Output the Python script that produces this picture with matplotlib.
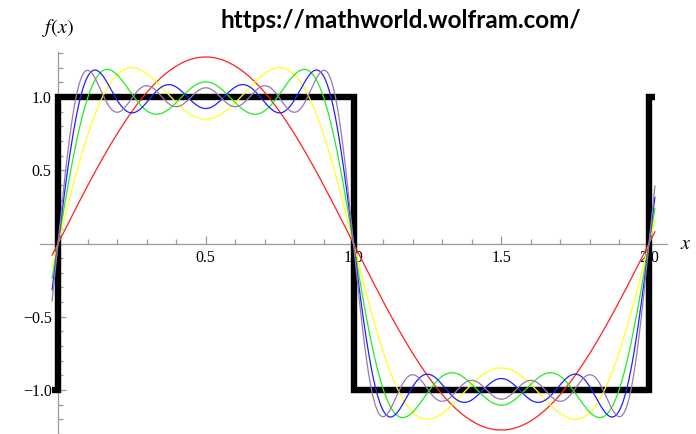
import numpy as np
import matplotlib.pyplot as plt
from matplotlib.ticker import FixedLocator

plt.rcParams['mathtext.fontset'] = 'stix'

# odd harmonics and their sine coefficients 4/(n*pi) for the square wave
harmonics = [1, 3, 5, 7, 9]
coeffs = [1.2732, 0.4244, 0.2546, 0.1819, 0.1415]
colors = ['#ff2020', '#ffff20', '#20ee20', '#2020ff', '#9977b0']

# square wave on [-0.02, 2.02]
sq_x = [-0.02, 0.0, 0.0, 1.0, 1.0, 2.0, 2.0, 2.02]
sq_y = [-1.0, -1.0, 1.0, 1.0, -1.0, -1.0, 1.0, 1.0]

x_lo, x_hi = -0.02, 2.02
x_ticks = [0.5, 1.0, 1.5, 2.0]
x_ticklabels = ['0.5', '1.0', '1.5', '2.0']
y_ticks = [-1.0, -0.5, 0.5, 1.0]
y_ticklabels = ['\u22121.0', '\u22120.5', '0.5', '1.0']

fig = plt.figure(figsize=(6.96, 4.34), dpi=100)
ax = fig.add_axes([0, 0, 1, 1])
ax.set_xlim(-58 / 295.5, (696 - 58) / 295.5)
ax.set_ylim(-(434 - 243.5) / 146.5, 243.5 / 146.5)

ax.plot(sq_x, sq_y, color='black', lw=4.6, solid_joinstyle='miter',
        solid_capstyle='butt', zorder=3)

xs = np.linspace(x_lo, x_hi, 2000)
partial = np.zeros_like(xs)
for n, b, c in zip(harmonics, coeffs, colors):
    partial = partial + b * np.sin(n * np.pi * xs)
    ax.plot(xs, partial, color=c, lw=0.9, zorder=4)

# axes crossing at the origin
for side in ['top', 'right']:
    ax.spines[side].set_visible(False)
ax.spines['left'].set_position(('data', 0))
ax.spines['bottom'].set_position(('data', 0))
ax.spines['left'].set_bounds(-1.3, 1.31)
ax.spines['bottom'].set_bounds(-0.061, 2.06)
for side in ['left', 'bottom']:
    ax.spines[side].set_color('#9a9a9a')
    ax.spines[side].set_linewidth(0.9)

ax.xaxis.set_major_locator(FixedLocator(x_ticks))
ax.set_xticklabels(x_ticklabels)
ax.xaxis.set_minor_locator(FixedLocator([0.1, 0.2, 0.3, 0.4, 0.6, 0.7, 0.8, 0.9,
                                         1.1, 1.2, 1.3, 1.4, 1.6, 1.7, 1.8, 1.9]))
ax.yaxis.set_major_locator(FixedLocator(y_ticks))
ax.set_yticklabels(y_ticklabels)
ax.yaxis.set_minor_locator(FixedLocator([-1.3, -1.2, -1.1, -0.9, -0.8, -0.7, -0.6,
                                         -0.4, -0.3, -0.2, -0.1, 0.1, 0.2, 0.3, 0.4,
                                         0.6, 0.7, 0.8, 0.9, 1.1, 1.2, 1.3]))
ax.tick_params(which='both', direction='in', color='#9a9a9a', width=0.9)
ax.tick_params(which='major', length=6, pad=4.5, labelsize=11.5,
               labelfontfamily='Liberation Serif')
ax.tick_params(which='minor', length=3.5)
ax.patch.set_visible(False)

ax.text(0.0, 1.47, '$f(x)$', fontsize=14.5, ha='center', va='center')
ax.text(2.125, 0.0, '$x$', fontsize=14.5, ha='center', va='center')

fig.text(401 / 696, 1 - 20 / 434, 'https://mathworld.wolfram.com/',
         fontfamily='Lato', fontweight='bold', fontsize=17.5,
         ha='center', va='center')

fig.savefig('out.png', dpi=100)
